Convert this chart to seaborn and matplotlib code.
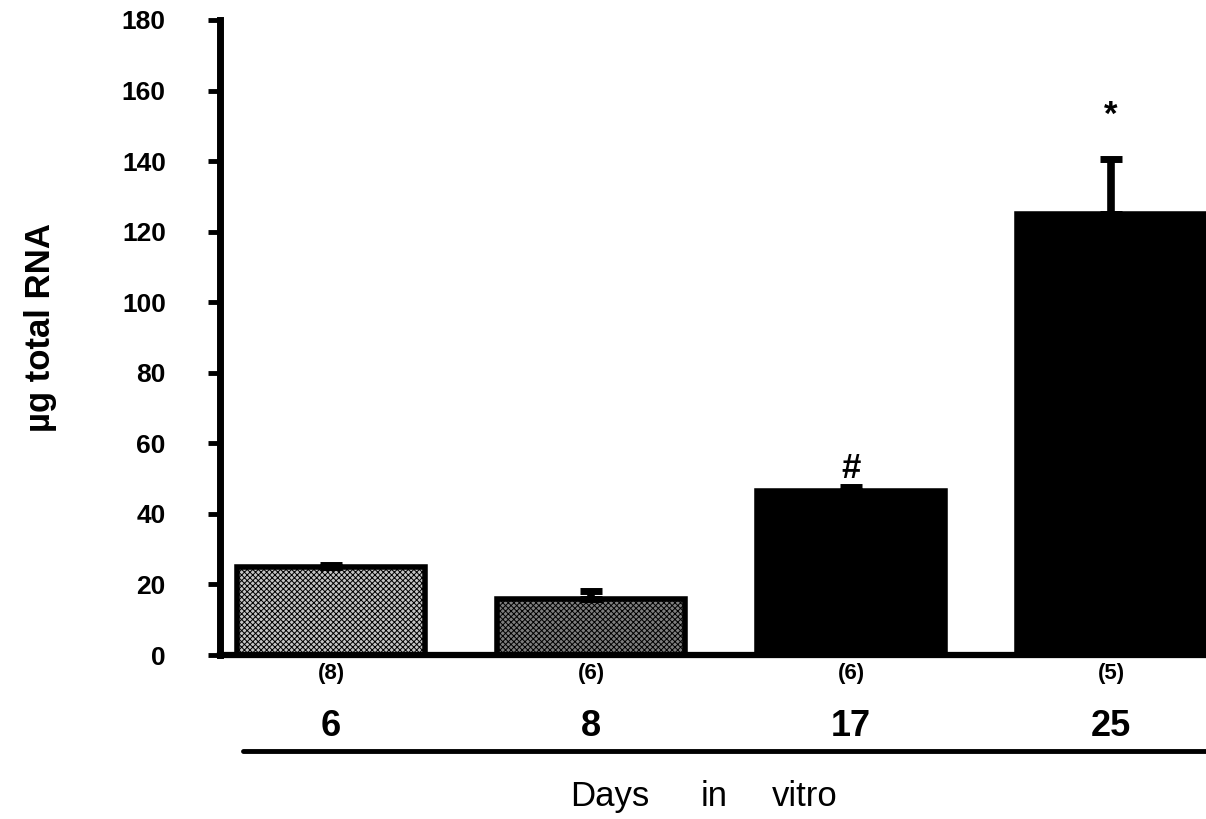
import matplotlib
matplotlib.use("Agg")
import matplotlib.pyplot as plt
import seaborn as sns
import pandas as pd
import numpy as np

# data
days = ["6", "8", "17", "25"]
n_labels = ["(8)", "(6)", "(6)", "(5)"]
rna = [25, 16, 46.5, 125]
sem = [0.5, 2.2, 1.0, 15.5]
marks = ["", "", "#", "*"]
mark_y = [0, 0, 53, 153]
fills = ["#c4c4c4", "#7e7e7e", "black", "black"]
y_ticks = [0, 20, 40, 60, 80, 100, 120, 140, 160, 180]
xlabel_words = ["Days", "in", "vitro"]
xlabel_pos = [0.506, 0.592, 0.667]

sns.set_style("ticks", {"text.color": "black", "axes.edgecolor": "black",
                        "axes.labelcolor": "black", "xtick.color": "black",
                        "ytick.color": "black"})
plt.rcParams["font.family"] = ["Liberation Sans", "DejaVu Sans"]
plt.rcParams["hatch.linewidth"] = 0.7

df = pd.DataFrame({"day": days, "rna": rna})

fig = plt.figure(figsize=(12.06, 8.19), dpi=100)
ax = fig.add_axes([0.1824, 0.2002, 0.8176, 0.7754])

sns.barplot(data=df, x="day", y="rna", order=days, width=0.72,
            errorbar=None, ax=ax, color="black")
for patch, fc in zip(ax.patches, fills):
    patch.set_facecolor(fc)
    patch.set_edgecolor("black")
    patch.set_linewidth(4)
    if fc != "black":
        patch.set_hatch("xxxxxx")

# upward-only error bars
xpos = np.arange(len(days))
ax.errorbar(xpos, rna, yerr=[np.zeros(len(sem)), sem], fmt="none",
            ecolor="black", elinewidth=5.5, capsize=8, capthick=5, zorder=5)

for x, m, y in zip(xpos, marks, mark_y):
    if m:
        ax.text(x, y, m, ha="center", va="center", fontsize=25,
                fontweight="bold")

ax.set_xlim(-0.427, 3.365)
ax.set_ylim(0, 180)
ax.set_yticks(y_ticks)
ax.set_yticklabels([str(t) for t in y_ticks], fontsize=19, fontweight="bold")
ax.tick_params(axis="y", length=9, width=3.5, pad=30, direction="out")
ax.set_xticks(xpos)
ax.set_xticklabels(n_labels, fontsize=16, fontweight="bold")
ax.tick_params(axis="x", length=0, pad=6)

sns.despine(ax=ax)
ax.spines["left"].set_linewidth(5)
ax.spines["bottom"].set_linewidth(4.5)
ax.spines["left"].set_zorder(6)

trans = ax.get_xaxis_transform()
for x, d in zip(xpos, days):
    ax.text(x, -0.112, d, transform=trans, ha="center", va="center",
            fontsize=26, fontweight="bold")

ax.plot([0.023, 1.0], [-0.151, -0.151], transform=ax.transAxes,
        color="black", linewidth=3.5, clip_on=False)

ax.set_xlabel("")
ax.set_ylabel("µg total RNA", fontsize=25, fontweight="bold")
ax.yaxis.set_label_coords(-0.165, 0.516)

for w, xp in zip(xlabel_words, xlabel_pos):
    fig.text(xp, 0.027, w, ha="center", va="center", fontsize=25)

fig.savefig("out.png", dpi=100)
